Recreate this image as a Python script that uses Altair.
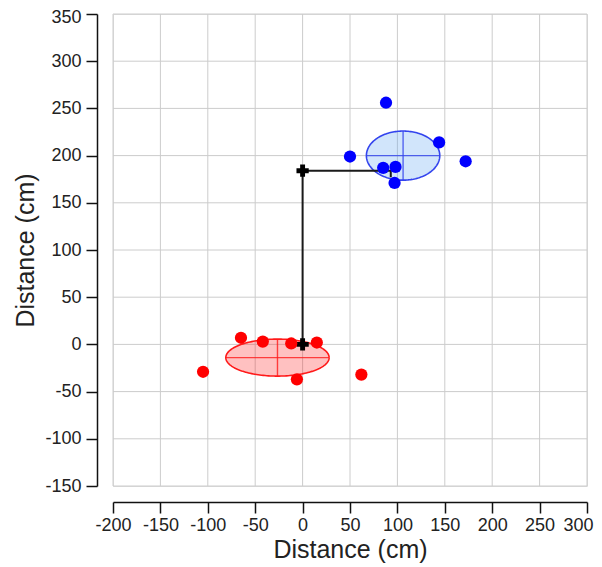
import altair as alt
import numpy as np
import pandas as pd

# ---- data ----
red_x = [-65, -42, -12, 15, -105, -6, 62]
red_y = [7, 3, 1, 2, -29, -37, -32]
blue_x = [88, 50, 144, 172, 85, 98, 97]
blue_y = [256, 199, 214, 194, 187, 188, 171]

path_x = [0, 0, 93, 93]
path_y = [0, 184, 184, 177]
cross_x = [0, 0]
cross_y = [0, 184]

ell_group = ["red", "blue"]
ell_cx = [-26.5, 106]
ell_cy = [-14, 200]
ell_a = [54.5, 38.7]
ell_b = [19.6, 26]

x_ticks = [-200, -150, -100, -50, 0, 50, 100, 150, 200, 250, 300]
y_ticks = [-150, -100, -50, 0, 50, 100, 150, 200, 250, 300, 350]

FONT = "Liberation Sans"
X_DOM = [-200, 300]
Y_DOM = [-150, 350]

xs = alt.Scale(domain=X_DOM, nice=False, zero=False)
ys = alt.Scale(domain=Y_DOM, nice=False, zero=False)

# ---- tables ----
red_df = pd.DataFrame({"x": red_x, "y": red_y})
blue_df = pd.DataFrame({"x": blue_x, "y": blue_y})
path_df = pd.DataFrame({"x": path_x, "y": path_y, "i": list(range(len(path_x)))})
cross_df = pd.DataFrame({"x": cross_x, "y": cross_y})

def ellipse_tables(cx, cy, a, b):
    t = np.linspace(0, np.pi, 91)
    fill = pd.DataFrame({"x": cx + a * np.cos(t),
                         "y1": cy - b * np.sin(t), "y2": cy + b * np.sin(t)})
    t2 = np.linspace(0, 2 * np.pi, 181)
    line = pd.DataFrame({"i": np.arange(len(t2)), "x": cx + a * np.cos(t2),
                         "y": cy + b * np.sin(t2)})
    cross = pd.DataFrame({"x": [cx, cx - a], "x2": [cx, cx + a],
                          "y": [cy - b, cy], "y2": [cy + b, cy]})
    return fill, line, cross

gx_df = pd.DataFrame({"x": x_ticks})
gy_df = pd.DataFrame({"y": y_ticks})

LABEL_EXPR = "datum.value < 0 ? '-' + abs(datum.value) : '' + datum.value"

x_axis = alt.Axis(values=x_ticks, offset=16, grid=False, title="Distance (cm)",
                  domainColor="#111", domainWidth=1.5, tickColor="#111", tickWidth=1.5,
                  tickSize=11, labelFontSize=18, labelFont=FONT, labelColor="#222",
                  labelPadding=3, titleFont=FONT, titleFontSize=25, titleFontWeight="normal",
                  titleColor="#222", titlePadding=3, labelFlush=False, labelExpr=LABEL_EXPR,
                  labelOffset={"condition": {"test": "datum.value == 300", "value": -9}, "value": 0})
y_axis = alt.Axis(values=y_ticks, offset=16, grid=False, title="Distance (cm)",
                  domainColor="#111", domainWidth=1.5, tickColor="#111", tickWidth=1.5,
                  tickSize=11, labelFontSize=18, labelFont=FONT, labelColor="#222",
                  labelPadding=5, titleFont=FONT, titleFontSize=25, titleFontWeight="normal",
                  titleColor="#222", titlePadding=6, labelFlush=False, labelExpr=LABEL_EXPR,
                  labelOffset={"condition": {"test": "datum.value == 350", "value": 3}, "value": 0})

gridx = alt.Chart(gx_df).mark_rule(color="#cccccc", strokeWidth=1).encode(
    x=alt.X("x:Q", scale=xs, axis=x_axis))
gridy = alt.Chart(gy_df).mark_rule(color="#cccccc", strokeWidth=1).encode(
    y=alt.Y("y:Q", scale=ys, axis=y_axis))

layers = [gridx, gridy]
ell_fill = ["#ff2020", "#5aa0f0"]
ell_stroke = ["#ff1a1a", "#3344ee"]
for k in range(len(ell_group)):
    f, l, c = ellipse_tables(ell_cx[k], ell_cy[k], ell_a[k], ell_b[k])
    layers.append(alt.Chart(f).mark_area(opacity=0.28, color=ell_fill[k]).encode(
        x=alt.X("x:Q", scale=xs), y=alt.Y("y1:Q", scale=ys), y2="y2:Q"))
    layers.append(alt.Chart(l).mark_line(strokeWidth=1.6, color=ell_stroke[k]).encode(
        x=alt.X("x:Q", scale=xs), y=alt.Y("y:Q", scale=ys), order="i:Q"))
    layers.append(alt.Chart(c).mark_rule(strokeWidth=1.4, opacity=0.8, color=ell_stroke[k]).encode(
        x=alt.X("x:Q", scale=xs), x2="x2:Q", y=alt.Y("y:Q", scale=ys), y2="y2:Q"))

layers.append(alt.Chart(path_df).mark_line(color="#1a1a1a", strokeWidth=2).encode(
    x=alt.X("x:Q", scale=xs), y=alt.Y("y:Q", scale=ys), order="i:Q"))
layers.append(alt.Chart(cross_df).mark_point(shape="cross", filled=True, size=150,
                                             color="#000000", opacity=1).encode(
    x=alt.X("x:Q", scale=xs), y=alt.Y("y:Q", scale=ys)))
layers.append(alt.Chart(red_df).mark_circle(size=150, opacity=1, color="#ff0000").encode(
    x=alt.X("x:Q", scale=xs), y=alt.Y("y:Q", scale=ys)))
layers.append(alt.Chart(blue_df).mark_circle(size=150, opacity=1, color="#0000ff").encode(
    x=alt.X("x:Q", scale=xs), y=alt.Y("y:Q", scale=ys)))

chart = alt.layer(*layers).properties(
    width=474, height=472,
    autosize=alt.AutoSizeParams(type="none"),
    padding={"left": 105, "top": 6, "right": 7, "bottom": 78},
).configure_view(stroke="#aaaaaa", strokeWidth=1).configure(background="white")

chart.save("out.html", embed_options={"renderer": "svg", "actions": False})
